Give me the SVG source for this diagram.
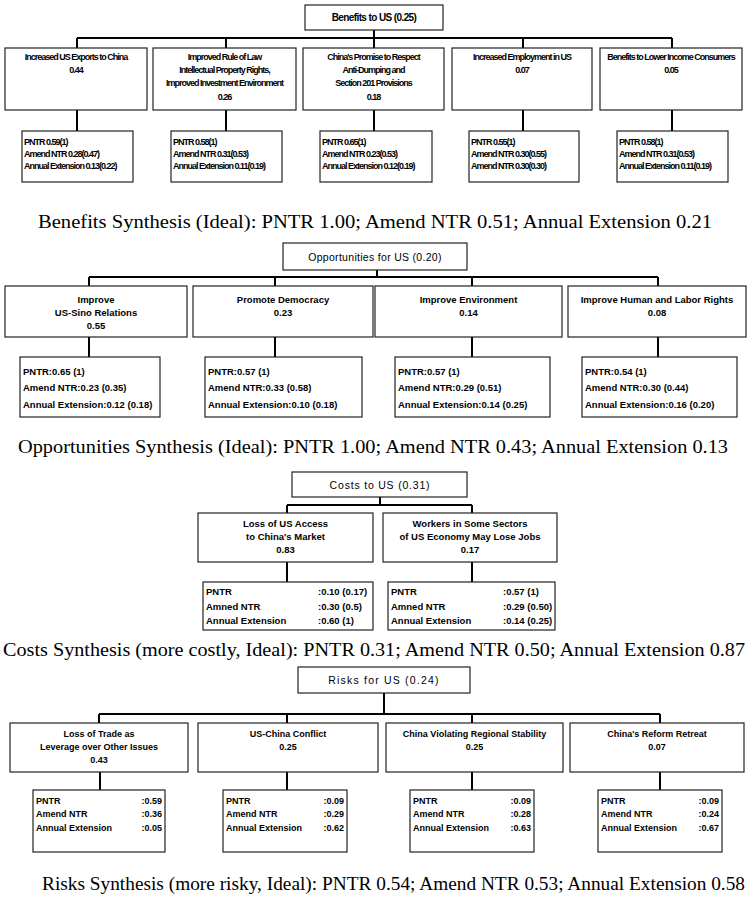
<svg xmlns="http://www.w3.org/2000/svg" width="747" height="898" viewBox="0 0 747 898">
<style>
.bg{fill:#fff}
.box{fill:#fff;stroke:#222;stroke-width:1.2}
.conn{stroke:#000;stroke-width:2;fill:none}
.t{font-family:"Liberation Sans",Arial,sans-serif;font-weight:bold;fill:#000}
.c{text-anchor:middle}
.e{text-anchor:end}
.s8{font-size:9px;letter-spacing:-1px}
.s9{font-size:9.5px}
.s9n{font-size:9px}
.hd{font-size:10.5px;font-weight:normal;letter-spacing:0.3px}
.cap{font-family:"Liberation Serif","Times New Roman",serif;font-size:18px;fill:#000}
</style>
<rect class="bg" x="0" y="0" width="747" height="898"/>

<g id="connectors">
<path class="conn" d="M374 30V38M77 38H672M77 38V48M226 38V48M374 38V48M523 38V48M672 38V48M77 110V131M226 110V131M374 110V131M523 110V131M672 110V131"/>
<path class="conn" d="M377 270V277M89 277H658M89 277V286M275 277V286M472 277V286M658 277V286M89 337V357M275 337V357M472 337V357M658 337V357"/>
<path class="conn" d="M380 497V505M287 505H472M287 505V513M472 505V513M287 562V582M472 562V582"/>
<path class="conn" d="M384 693V714M99 714H660M99 714V723M287 714V723M472 714V723M660 714V723M100 772V790M287 772V790M472 772V790M660 772V790"/>
</g>

<!-- Benefits -->
<g id="benefits-root"><rect class="box" x="305" y="5" width="138" height="25"/><text class="t c s8" x="374" y="21" style="font-size:10px;letter-spacing:-0.6px">Benefits to US (0.25)</text></g>
<g id="b1"><rect class="box" x="5" y="48" width="142" height="62"/><text class="t c s8" x="76" y="60">Increased US Exports to China</text><text class="t c s8" x="76" y="73">0.44</text></g>
<g id="b2"><rect class="box" x="153" y="48" width="143" height="62"/><text class="t c s8" x="224.5" y="60">Improved Rule of Law</text><text class="t c s8" x="224.5" y="73">Intellectual Property Rights,</text><text class="t c s8" x="224.5" y="86">Improved Investment Environment</text><text class="t c s8" x="224.5" y="100">0.26</text></g>
<g id="b3"><rect class="box" x="303" y="48" width="141" height="62"/><text class="t c s8" x="373.5" y="60">China's Promise to Respect</text><text class="t c s8" x="373.5" y="73">Anti-Dumping and</text><text class="t c s8" x="373.5" y="86">Section 201 Provisions</text><text class="t c s8" x="373.5" y="100">0.18</text></g>
<g id="b4"><rect class="box" x="452" y="48" width="140" height="62"/><text class="t c s8" x="522" y="60">Increased Employment in US</text><text class="t c s8" x="522" y="73">0.07</text></g>
<g id="b5"><rect class="box" x="600" y="48" width="142" height="62"/><text class="t c s8" x="671" y="60">Benefits to Lower Income Consumers</text><text class="t c s8" x="671" y="73">0.05</text></g>

<g id="bs1"><rect class="box" x="22" y="131" width="111" height="51"/><text class="t s8" x="24" y="145">PNTR 0.59(1)</text><text class="t s8" x="24" y="157">Amend NTR 0.28(0.47)</text><text class="t s8" x="24" y="169">Annual Extension 0.13(0.22)</text></g>
<g id="bs2"><rect class="box" x="171" y="131" width="111" height="51"/><text class="t s8" x="173" y="145">PNTR 0.58(1)</text><text class="t s8" x="173" y="157">Amend NTR 0.31(0.53)</text><text class="t s8" x="173" y="169">Annual Extension 0.11(0.19)</text></g>
<g id="bs3"><rect class="box" x="320" y="131" width="112" height="51"/><text class="t s8" x="322" y="145">PNTR 0.65(1)</text><text class="t s8" x="322" y="157">Amend NTR 0.23(0.53)</text><text class="t s8" x="322" y="169">Annual Extension 0.12(0.19)</text></g>
<g id="bs4"><rect class="box" x="469" y="131" width="110" height="51"/><text class="t s8" x="471" y="145">PNTR 0.55(1)</text><text class="t s8" x="471" y="157">Amend NTR 0.30(0.55)</text><text class="t s8" x="471" y="169">Amend NTR 0.30(0.30)</text></g>
<g id="bs5"><rect class="box" x="617" y="131" width="111" height="51"/><text class="t s8" x="619" y="145">PNTR 0.58(1)</text><text class="t s8" x="619" y="157">Amend NTR 0.31(0.53)</text><text class="t s8" x="619" y="169">Annual Extension 0.11(0.19)</text></g>

<text class="cap" x="38" y="228" textLength="674" lengthAdjust="spacingAndGlyphs">Benefits Synthesis (Ideal): PNTR 1.00; Amend NTR 0.51; Annual Extension 0.21</text>

<!-- Opportunities -->
<g id="opp-root"><rect class="box" x="283" y="243" width="184" height="27"/><text class="t c hd" x="375" y="261">Opportunities for US (0.20)</text></g>
<g id="o1"><rect class="box" x="5" y="286" width="182" height="51"/><text class="t c s9" x="96" y="303">Improve</text><text class="t c s9" x="96" y="316">US-Sino Relations</text><text class="t c s9" x="96" y="329">0.55</text></g>
<g id="o2"><rect class="box" x="193" y="286" width="180" height="51"/><text class="t c s9" x="283" y="303">Promote Democracy</text><text class="t c s9" x="283" y="316">0.23</text></g>
<g id="o3"><rect class="box" x="375" y="286" width="187" height="51"/><text class="t c s9" x="468.5" y="303">Improve Environment</text><text class="t c s9" x="468.5" y="316">0.14</text></g>
<g id="o4"><rect class="box" x="568" y="286" width="178" height="51"/><text class="t c s9" x="657" y="303">Improve Human and Labor Rights</text><text class="t c s9" x="657" y="316">0.08</text></g>

<g id="os1"><rect class="box" x="20" y="357" width="140" height="60"/><text class="t s9" x="23" y="375">PNTR:0.65 (1)</text><text class="t s9" x="23" y="391">Amend NTR:0.23 (0.35)</text><text class="t s9" x="23" y="408">Annual Extension:0.12 (0.18)</text></g>
<g id="os2"><rect class="box" x="205" y="357" width="157" height="60"/><text class="t s9" x="208" y="375">PNTR:0.57 (1)</text><text class="t s9" x="208" y="391">Amend NTR:0.33 (0.58)</text><text class="t s9" x="208" y="408">Annual Extension:0.10 (0.18)</text></g>
<g id="os3"><rect class="box" x="395" y="357" width="155" height="60"/><text class="t s9" x="398" y="375">PNTR:0.57 (1)</text><text class="t s9" x="398" y="391">Amend NTR:0.29 (0.51)</text><text class="t s9" x="398" y="408">Annual Extension:0.14 (0.25)</text></g>
<g id="os4"><rect class="box" x="582" y="357" width="155" height="60"/><text class="t s9" x="585" y="375">PNTR:0.54 (1)</text><text class="t s9" x="585" y="391">Amend NTR:0.30 (0.44)</text><text class="t s9" x="585" y="408">Annual Extension:0.16 (0.20)</text></g>

<text class="cap" x="18" y="453" textLength="710" lengthAdjust="spacingAndGlyphs">Opportunities Synthesis (Ideal): PNTR 1.00; Amend NTR 0.43; Annual Extension 0.13</text>

<!-- Costs -->
<g id="costs-root"><rect class="box" x="292" y="472" width="175" height="25"/><text class="t c hd" x="380" y="489" style="letter-spacing:0.8px">Costs to US (0.31)</text></g>
<g id="c1"><rect class="box" x="198" y="513" width="175" height="49"/><text class="t c s9" x="285.5" y="527">Loss of US Access</text><text class="t c s9" x="285.5" y="540">to China's Market</text><text class="t c s9" x="285.5" y="553">0.83</text></g>
<g id="c2"><rect class="box" x="383" y="513" width="174" height="49"/><text class="t c s9" x="470" y="527">Workers in Some Sectors</text><text class="t c s9" x="470" y="540">of US Economy May Lose Jobs</text><text class="t c s9" x="470" y="553">0.17</text></g>

<g id="cs1"><rect class="box" x="203" y="582" width="170" height="48"/><text class="t s9" x="206" y="595">PNTR</text><text class="t s9" x="318" y="595">:0.10 (0.17)</text><text class="t s9" x="206" y="610">Amned NTR</text><text class="t s9" x="318" y="610">:0.30 (0.5)</text><text class="t s9" x="206" y="624">Annual Extension</text><text class="t s9" x="318" y="624">:0.60 (1)</text></g>
<g id="cs2"><rect class="box" x="388" y="582" width="167" height="48"/><text class="t s9" x="391" y="595">PNTR</text><text class="t s9" x="503" y="595">:0.57 (1)</text><text class="t s9" x="391" y="610">Amned NTR</text><text class="t s9" x="503" y="610">:0.29 (0.50)</text><text class="t s9" x="391" y="624">Annual Extension</text><text class="t s9" x="503" y="624">:0.14 (0.25)</text></g>

<text class="cap" x="3" y="656" textLength="742" lengthAdjust="spacingAndGlyphs">Costs Synthesis (more costly, Ideal): PNTR 0.31; Amend NTR 0.50; Annual Extension 0.87</text>

<!-- Risks -->
<g id="risks-root"><rect class="box" x="298" y="667" width="172" height="26"/><text class="t c hd" x="384" y="684" style="letter-spacing:1.2px">Risks for US (0.24)</text></g>
<g id="r1"><rect class="box" x="10" y="723" width="178" height="49"/><text class="t c s9n" x="99" y="737">Loss of Trade as</text><text class="t c s9n" x="99" y="750">Leverage over Other Issues</text><text class="t c s9n" x="99" y="763">0.43</text></g>
<g id="r2"><rect class="box" x="198" y="723" width="180" height="49"/><text class="t c s9n" x="288" y="737">US-China Conflict</text><text class="t c s9n" x="288" y="750">0.25</text></g>
<g id="r3"><rect class="box" x="386" y="723" width="177" height="49"/><text class="t c s9n" x="474.5" y="737">China Violating Regional Stability</text><text class="t c s9n" x="474.5" y="750">0.25</text></g>
<g id="r4"><rect class="box" x="570" y="723" width="174" height="49"/><text class="t c s9n" x="657" y="737">China's Reform Retreat</text><text class="t c s9n" x="657" y="750">0.07</text></g>

<g id="rs1"><rect class="box" x="33" y="790" width="132" height="62"/><text class="t s9n" x="36" y="804">PNTR</text><text class="t s9n e" x="162" y="804">:0.59</text><text class="t s9n" x="36" y="817">Amend NTR</text><text class="t s9n e" x="162" y="817">:0.36</text><text class="t s9n" x="36" y="831">Annual Extension</text><text class="t s9n e" x="162" y="831">:0.05</text></g>
<g id="rs2"><rect class="box" x="223" y="790" width="124" height="62"/><text class="t s9n" x="226" y="804">PNTR</text><text class="t s9n e" x="344" y="804">:0.09</text><text class="t s9n" x="226" y="817">Amend NTR</text><text class="t s9n e" x="344" y="817">:0.29</text><text class="t s9n" x="226" y="831">Annual Extension</text><text class="t s9n e" x="344" y="831">:0.62</text></g>
<g id="rs3"><rect class="box" x="410" y="790" width="124" height="62"/><text class="t s9n" x="413" y="804">PNTR</text><text class="t s9n e" x="531" y="804">:0.09</text><text class="t s9n" x="413" y="817">Amend NTR</text><text class="t s9n e" x="531" y="817">:0.28</text><text class="t s9n" x="413" y="831">Annual Extension</text><text class="t s9n e" x="531" y="831">:0.63</text></g>
<g id="rs4"><rect class="box" x="598" y="790" width="124" height="62"/><text class="t s9n" x="601" y="804">PNTR</text><text class="t s9n e" x="719" y="804">:0.09</text><text class="t s9n" x="601" y="817">Amend NTR</text><text class="t s9n e" x="719" y="817">:0.24</text><text class="t s9n" x="601" y="831">Annual Extension</text><text class="t s9n e" x="719" y="831">:0.67</text></g>

<text class="cap" x="42" y="890" textLength="703" lengthAdjust="spacingAndGlyphs">Risks Synthesis (more risky, Ideal): PNTR 0.54; Amend NTR 0.53; Annual Extension 0.58</text>
</svg>
